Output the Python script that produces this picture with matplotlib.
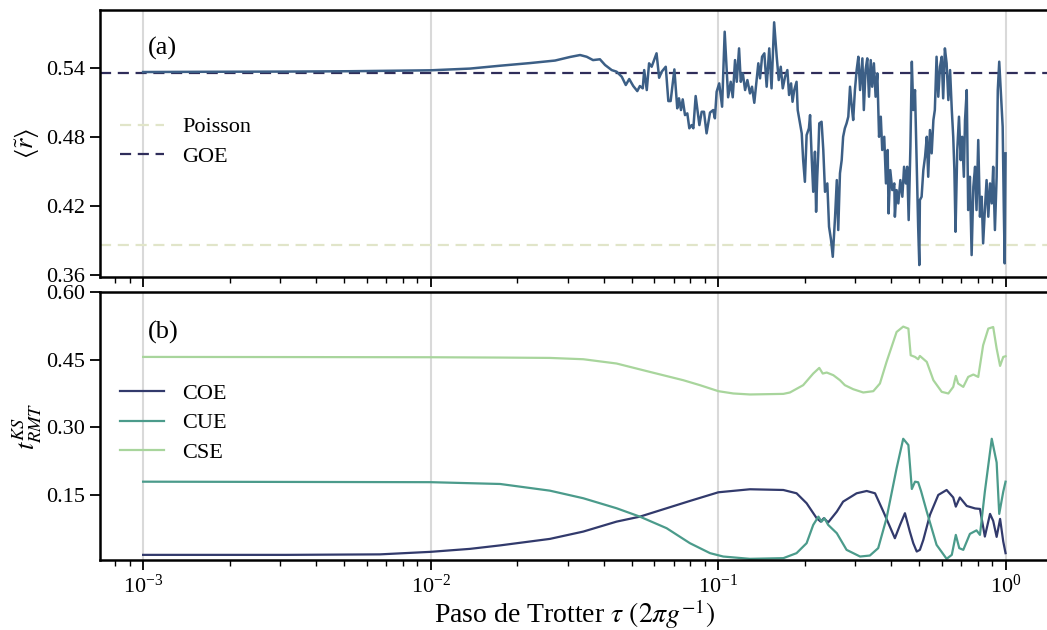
import numpy as np
import matplotlib.pyplot as plt

plt.rcParams['font.family'] = ['Liberation Serif', 'DejaVu Serif']
plt.rcParams['mathtext.fontset'] = 'stix'

# <r~> vs Trotter step, x stored as log10(tau)
log_tau_r = [-3.000, -2.802, -2.500, -2.280, -2.000, -1.863, -1.758, -1.654, -1.567, -1.515,
             -1.480, -1.457, -1.435, -1.411, -1.393, -1.370, -1.353, -1.335, -1.321, -1.309,
             -1.295, -1.281, -1.272, -1.262, -1.257, -1.248, -1.240, -1.231, -1.214, -1.205,
             -1.196, -1.182, -1.173, -1.165, -1.152, -1.142, -1.136, -1.129, -1.123, -1.115,
             -1.107, -1.100, -1.092, -1.086, -1.078, -1.065, -1.057, -1.049, -1.040, -1.028,
             -1.017, -1.011, -1.005, -0.996, -0.986, -0.977, -0.965, -0.956, -0.949, -0.941,
             -0.935, -0.927, -0.921, -0.914, -0.906, -0.898, -0.889, -0.882, -0.874, -0.866,
             -0.860, -0.854, -0.847, -0.839, -0.831, -0.822, -0.814, -0.805, -0.796, -0.789,
             -0.782, -0.775, -0.767, -0.759, -0.753, -0.746, -0.741, -0.735, -0.727, -0.723,
             -0.715, -0.709, -0.704, -0.698, -0.692, -0.684, -0.680, -0.674, -0.669, -0.663,
             -0.659, -0.655, -0.651, -0.648, -0.640, -0.634, -0.628, -0.620, -0.614, -0.607,
             -0.601, -0.593, -0.587, -0.582, -0.576, -0.570, -0.565, -0.559, -0.553, -0.547,
             -0.541, -0.535, -0.530, -0.524, -0.518, -0.512, -0.506, -0.498, -0.493, -0.487,
             -0.481, -0.475, -0.469, -0.464, -0.458, -0.452, -0.446, -0.440, -0.434, -0.429,
             -0.422, -0.416, -0.410, -0.407, -0.401, -0.394, -0.387, -0.385, -0.379, -0.373,
             -0.366, -0.359, -0.353, -0.347, -0.342, -0.337, -0.331, -0.326, -0.321, -0.315,
             -0.309, -0.304, -0.300, -0.298, -0.292, -0.286, -0.280, -0.274, -0.269, -0.263,
             -0.257, -0.251, -0.246, -0.240, -0.234, -0.228, -0.222, -0.217, -0.211, -0.205,
             -0.199, -0.193, -0.187, -0.182, -0.178, -0.174, -0.168, -0.162, -0.156, -0.151,
             -0.145, -0.141, -0.135, -0.130, -0.124, -0.118, -0.112, -0.106, -0.101, -0.095,
             -0.089, -0.083, -0.078, -0.072, -0.066, -0.060, -0.054, -0.048, -0.043, -0.037,
             -0.031, -0.027, -0.022, -0.016, -0.010, -0.006, -0.003, 0.000]
r_mean = [0.5368, 0.5370, 0.5372, 0.5375, 0.5383, 0.5398, 0.5423, 0.5446, 0.5468, 0.5499,
          0.5516, 0.5501, 0.5472, 0.5479, 0.5429, 0.5385, 0.5371, 0.5327, 0.5255, 0.5307,
          0.5246, 0.5202, 0.5246, 0.5226, 0.5385, 0.5211, 0.5444, 0.5414, 0.5531, 0.5318,
          0.5371, 0.5414, 0.5115, 0.5115, 0.5391, 0.5052, 0.5139, 0.5037, 0.5130, 0.4993,
          0.5008, 0.4878, 0.4906, 0.4878, 0.5159, 0.4906, 0.5022, 0.5022, 0.4834, 0.5015,
          0.5037, 0.4965, 0.5196, 0.5269, 0.5066, 0.5719, 0.5148, 0.5283, 0.5148, 0.5472,
          0.5283, 0.5574, 0.5283, 0.5357, 0.5211, 0.5298, 0.5182, 0.5240, 0.5100, 0.5298,
          0.5444, 0.5313, 0.5501, 0.5531, 0.5240, 0.5574, 0.5226, 0.5801, 0.5501, 0.5298,
          0.5414, 0.5226, 0.5327, 0.5385, 0.5168, 0.5269, 0.5109, 0.5211, 0.5283, 0.5037,
          0.4921, 0.4834, 0.4601, 0.4412, 0.4819, 0.4878, 0.4993, 0.4601, 0.4325, 0.4674,
          0.4151, 0.4456, 0.4689, 0.4921, 0.4935, 0.4689, 0.4325, 0.4398, 0.4021, 0.3905,
          0.3759, 0.4108, 0.4427, 0.3992, 0.4486, 0.4601, 0.4804, 0.4878, 0.4921, 0.4979,
          0.5240, 0.5066, 0.4950, 0.5211, 0.5385, 0.5501, 0.5211, 0.5487, 0.5037, 0.5385,
          0.5487, 0.5153, 0.5472, 0.5240, 0.5444, 0.5153, 0.5357, 0.4804, 0.4979, 0.4689,
          0.4804, 0.4398, 0.4689, 0.4137, 0.4514, 0.4340, 0.4398, 0.4108, 0.4340, 0.4224,
          0.4427, 0.4282, 0.4543, 0.4398, 0.4543, 0.4079, 0.4717, 0.5458, 0.5037, 0.5211,
          0.4543, 0.4021, 0.3687, 0.4253, 0.4282, 0.4514, 0.4630, 0.4804, 0.4456, 0.4863,
          0.4660, 0.4950, 0.5037, 0.5501, 0.5153, 0.5414, 0.5501, 0.5139, 0.5574, 0.5444,
          0.5124, 0.5385, 0.5037, 0.4804, 0.4514, 0.3977, 0.4689, 0.4979, 0.4601, 0.4804,
          0.4456, 0.4950, 0.5211, 0.4166, 0.4456, 0.3774, 0.4369, 0.4543, 0.4166, 0.4776,
          0.4108, 0.4282, 0.3876, 0.4166, 0.4427, 0.4108, 0.4398, 0.4224, 0.4543, 0.3992,
          0.4456, 0.5211, 0.5458, 0.5182, 0.4891, 0.4166, 0.3702, 0.4660]

r_poisson = 0.3863
r_goe = 0.5359

# KS statistic against each circular ensemble
log_tau_coe = [-3.000, -2.500, -2.176, -2.000, -1.863, -1.758, -1.585, -1.469, -1.353, -1.272,
               -1.179, -1.098, -0.999, -0.889, -0.773, -0.727, -0.692, -0.657, -0.643, -0.632,
               -0.617, -0.587, -0.565, -0.518, -0.483, -0.454, -0.425, -0.385, -0.367, -0.350,
               -0.333, -0.321, -0.309, -0.298, -0.286, -0.263, -0.234, -0.205, -0.182, -0.173,
               -0.159, -0.135, -0.106, -0.089, -0.072, -0.054, -0.043, -0.031, -0.019, -0.008,
               0.000]
coe = [0.0174, 0.0174, 0.0185, 0.0241, 0.0307, 0.0384, 0.0528, 0.0690, 0.0911, 0.1021,
       0.1207, 0.1369, 0.1561, 0.1628, 0.1612, 0.1539, 0.1318, 0.0986, 0.0911, 0.0986,
       0.0893, 0.1132, 0.1354, 0.1539, 0.1590, 0.1539, 0.1132, 0.0543, 0.0838, 0.1097,
       0.0690, 0.0433, 0.0248, 0.0285, 0.0507, 0.1060, 0.1502, 0.1612, 0.1446, 0.1243,
       0.1446, 0.1258, 0.1203, 0.1192, 0.0580, 0.1082, 0.0927, 0.0573, 0.0971, 0.0469,
       0.0212]

log_tau_cue = [-3.000, -2.000, -1.758, -1.585, -1.469, -1.353, -1.272, -1.179, -1.098, -1.028,
               -0.982, -0.889, -0.773, -0.727, -0.692, -0.669, -0.651, -0.640, -0.630, -0.617,
               -0.587, -0.553, -0.506, -0.472, -0.443, -0.414, -0.379, -0.356, -0.338, -0.326,
               -0.315, -0.304, -0.294, -0.274, -0.240, -0.205, -0.187, -0.173, -0.161, -0.147,
               -0.124, -0.101, -0.089, -0.072, -0.048, -0.031, -0.022, -0.008, 0.000]
cue = [0.1796, 0.1785, 0.1745, 0.1597, 0.1429, 0.1207, 0.1021, 0.0765, 0.0433, 0.0212,
       0.0137, 0.0086, 0.0101, 0.0212, 0.0433, 0.0838, 0.1021, 0.0911, 0.0986, 0.0838,
       0.0654, 0.0285, 0.0137, 0.0159, 0.0323, 0.0986, 0.2092, 0.2747, 0.2608, 0.1634,
       0.1796, 0.1783, 0.1590, 0.1132, 0.0396, 0.0086, 0.0174, 0.0617, 0.0323, 0.0285,
       0.0639, 0.0717, 0.0617, 0.1575, 0.2747, 0.2221, 0.1082, 0.1575, 0.1796]

log_tau_cse = [-3.000, -2.500, -2.000, -1.758, -1.585, -1.469, -1.353, -1.237, -1.121, -1.063,
               -0.999, -0.947, -0.889, -0.773, -0.750, -0.704, -0.669, -0.648, -0.636, -0.622,
               -0.599, -0.576, -0.559, -0.530, -0.495, -0.460, -0.437, -0.414, -0.379, -0.356,
               -0.338, -0.330, -0.315, -0.304, -0.298, -0.274, -0.251, -0.222, -0.199, -0.182,
               -0.173, -0.165, -0.147, -0.130, -0.112, -0.095, -0.078, -0.060, -0.043, -0.031,
               -0.019, -0.008, 0.000]
cse = [0.4561, 0.4558, 0.4554, 0.4547, 0.4539, 0.4510, 0.4415, 0.4229, 0.4045, 0.3935,
       0.3802, 0.3751, 0.3729, 0.3742, 0.3773, 0.3935, 0.4193, 0.4318, 0.4193, 0.4215,
       0.4156, 0.4045, 0.3935, 0.3846, 0.3773, 0.3802, 0.3972, 0.4450, 0.5114, 0.5233,
       0.5189, 0.4598, 0.4561, 0.4510, 0.4583, 0.4450, 0.4045, 0.3787, 0.3751, 0.3897,
       0.4140, 0.3972, 0.3897, 0.4118, 0.4171, 0.4118, 0.4820, 0.5189, 0.5224, 0.4747,
       0.4362, 0.4561, 0.4576]

c_line = '#3c5f86'
c_goe = '#2f2d5a'
c_poisson = '#e1e5c9'
c_coe = '#323a6c'
c_cue = '#4b9b8b'
c_cse = '#a8d59c'
c_grid = '#d9d9d9'

fig = plt.figure(figsize=(10.47, 6.30), dpi=100)
ax1 = fig.add_axes([0.0955, 0.5603, 0.9061, 0.4238])
ax2 = fig.add_axes([0.0955, 0.1111, 0.9061, 0.4254], sharex=ax1)

leg_kw = dict(loc='center left', frameon=False, fontsize=16, handlelength=2.0,
              handletextpad=0.8, labelspacing=0.4, borderaxespad=0.5)

# (a) mean gap ratio
ax1.axhline(r_poisson, color=c_poisson, ls='--', lw=1.6, dashes=(5, 3), label='Poisson')
ax1.axhline(r_goe, color=c_goe, ls='--', lw=1.6, dashes=(5, 3), label='GOE')
ax1.plot(10.0 ** np.array(log_tau_r), r_mean, color=c_line, lw=1.8, zorder=3)
ax1.set_ylim(0.3583, 0.5908)
ax1.set_yticks([0.36, 0.42, 0.48, 0.54])
ax1.set_ylabel(r'$\langle \tilde{r} \rangle$', fontsize=19, labelpad=4)
ax1.text(0.05, 0.855, '(a)', transform=ax1.transAxes, fontsize=19, va='center')
ax1.legend(bbox_to_anchor=(0.0, 0.506), **leg_kw)
ax1.tick_params(labelbottom=False)

# (b) KS distance to circular ensembles
ax2.plot(10.0 ** np.array(log_tau_coe), coe, color=c_coe, lw=1.6, label='COE')
ax2.plot(10.0 ** np.array(log_tau_cue), cue, color=c_cue, lw=1.6, label='CUE')
ax2.plot(10.0 ** np.array(log_tau_cse), cse, color=c_cse, lw=1.6, label='CSE')
ax2.set_ylim(0.006, 0.60)
ax2.set_yticks([0.15, 0.30, 0.45, 0.60])
ax2.set_ylabel(r'$t^{KS}_{RMT}$', fontsize=19, labelpad=2)
ax2.text(0.05, 0.85, '(b)', transform=ax2.transAxes, fontsize=19, va='center')
ax2.legend(bbox_to_anchor=(0.0, 0.511), **leg_kw)
ax2.set_xlabel(r'Paso de Trotter $\tau$ $(2\pi g^{-1})$', fontsize=20)
ax2.xaxis.set_label_coords(0.5, -0.14)

for ax in (ax1, ax2):
    ax.set_xscale('log')
    ax.set_xlim(10 ** -3.15, 10 ** 0.15)
    ax.set_xticks([1e-3, 1e-2, 1e-1, 1e0])
    ax.grid(True, axis='x', which='major', color=c_grid, lw=1.5)
    ax.grid(False, axis='y')
    ax.set_axisbelow(True)
    ax.yaxis.set_major_formatter(plt.FormatStrFormatter('%.2f'))
    ax.tick_params(axis='both', which='major', length=7, width=1.3, labelsize=16, direction='out')
    ax.tick_params(axis='x', which='minor', length=4, width=1.0, direction='out')
    for s in ax.spines.values():
        s.set_linewidth(1.8)

fig.savefig('out.png', dpi=100)
